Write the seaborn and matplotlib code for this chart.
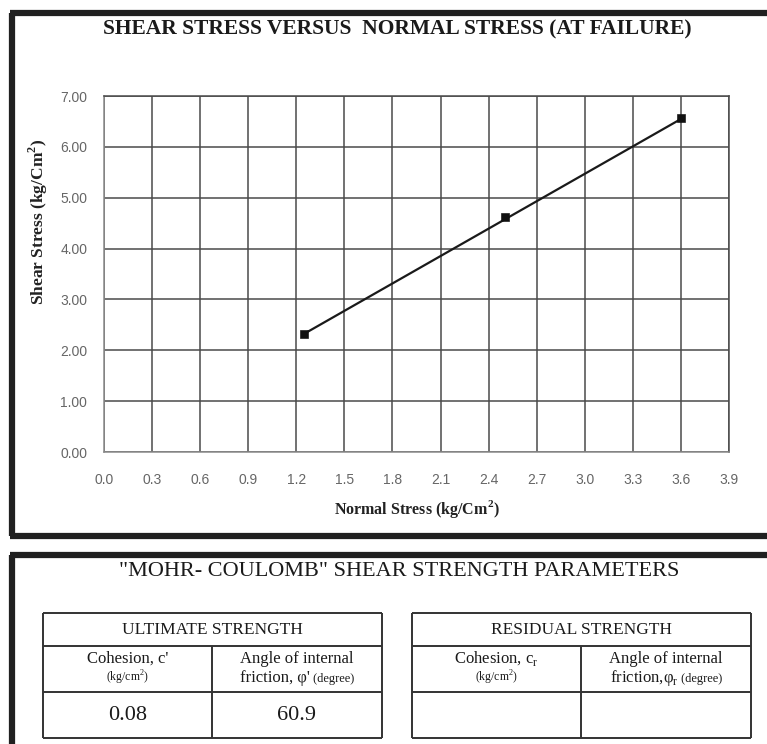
import numpy as np
import pandas as pd
import seaborn as sns
import matplotlib.pyplot as plt

# Direct shear test results at failure
normal_stress = [1.25, 2.50, 3.60]   # kg/cm²
shear_stress = [2.32, 4.62, 6.57]    # kg/cm²

# Mohr-Coulomb parameters (ultimate strength)
cohesion = 0.08        # kg/cm²
friction_angle = 60.9  # degrees

x_ticks = [0.0, 0.3, 0.6, 0.9, 1.2, 1.5, 1.8, 2.1, 2.4, 2.7, 3.0, 3.3, 3.6, 3.9]
y_ticks = [0.0, 1.0, 2.0, 3.0, 4.0, 5.0, 6.0, 7.0]

sns.set_theme(style="white")
plt.rcParams['font.family'] = ['Liberation Serif', 'DejaVu Serif']

W, H = 767, 744
fig = plt.figure(figsize=(W / 100, H / 100), dpi=100)
fig.patch.set_facecolor("white")

# ---- chart axes -------------------------------------------------------------
left, right, top, bottom = 104, 729, 96, 452
ax = fig.add_axes([left / W, 1 - bottom / H, (right - left) / W, (bottom - top) / H])

points = pd.DataFrame({"normal": normal_stress, "shear": shear_stress})

# Failure envelope: tau = c + sigma * tan(phi)
env_x = np.array([min(normal_stress), max(normal_stress)])
envelope = pd.DataFrame({"normal": env_x,
                         "shear": cohesion + env_x * np.tan(np.radians(friction_angle))})

sns.lineplot(data=envelope, x="normal", y="shear", ax=ax, color="#1a1a1a",
             linewidth=1.6, zorder=3)
sns.scatterplot(data=points, x="normal", y="shear", ax=ax, marker="s", s=30,
                color="#111111", edgecolor="#111111", zorder=4)

ax.set_xlim(0, 3.9)
ax.set_ylim(0, 7.0)
ax.set_xticks(x_ticks)
ax.set_yticks(y_ticks)
ax.set_xticklabels([f"{v:.1f}" for v in x_ticks])
ax.set_yticklabels([f"{v:.2f}" for v in y_ticks])
ax.grid(True, color="#4a4a4a", linewidth=1.1)
ax.set_axisbelow(True)
for side in ["top", "right"]:
    ax.spines[side].set_color("#4a4a4a")
    ax.spines[side].set_linewidth(1.1)
for side in ["left", "bottom"]:
    ax.spines[side].set_color("#8a8a8a")
    ax.spines[side].set_linewidth(1.1)
ax.tick_params(axis="both", direction="out", length=5, width=1.0, color="#777777",
               labelcolor="#666666", labelsize=10)
ax.tick_params(axis="x", pad=10)
ax.tick_params(axis="y", pad=7)
for lab in ax.get_xticklabels() + ax.get_yticklabels():
    lab.set_fontfamily(['Liberation Sans', 'DejaVu Sans'])

ax.set_xlabel("Normal Stress (kg/Cm$^\\mathregular{2}$)", fontsize=11.5, fontweight="bold",
              color="#222222", labelpad=8)
ax.set_ylabel("")
fig.text(38 / W, 1 - 222 / H, "Shear Stress (kg/Cm$^\\mathregular{2}$)", rotation=90,
         ha="center", va="center", fontsize=12.5, fontweight="bold", color="#222222")

# ---- overlay for frames, titles and parameter tables ------------------------
ov = fig.add_axes([0, 0, 1, 1], zorder=-1)
ov.set_xlim(0, W)
ov.set_ylim(H, 0)
ov.axis("off")

frame_kw = dict(color="#202020", linewidth=4.5, solid_capstyle="butt")
# upper panel frame
ov.plot([12, 12], [12.5, 535.5], **frame_kw)
ov.plot([10, W + 5], [12.5, 12.5], **frame_kw)
ov.plot([10, W + 5], [535.5, 535.5], **frame_kw)
# lower panel frame
ov.plot([12, 12], [554.5, H + 5], **frame_kw)
ov.plot([10, W + 5], [554.5, 554.5], **frame_kw)

ov.text(397, 29, "SHEAR STRESS VERSUS  NORMAL STRESS (AT FAILURE)", ha="center",
        va="center", fontsize=15.5, fontweight="bold", color="#1a1a1a")
ov.text(399, 571, "\"MOHR- COULOMB\" SHEAR STRENGTH PARAMETERS", ha="center",
        va="center", fontsize=16, color="#1a1a1a")

# parameter tables
line_kw = dict(color="#333333", linewidth=1.4, solid_capstyle="butt")
rows = [613, 646, 692, 738]
paired = []  # (big text, small text, centre x) laid out after measuring


def draw_table(x0, xm, x1, title, c_label, phi_label, c_val, phi_val):
    for y in rows:
        ov.plot([x0, x1], [y, y], **line_kw)
    ov.plot([x0, x0], [rows[0], rows[-1]], **line_kw)
    ov.plot([x1, x1], [rows[0], rows[-1]], **line_kw)
    ov.plot([xm, xm], [rows[1], rows[-1]], **line_kw)
    ov.text((x0 + x1) / 2, 630, title, ha="center", va="center", fontsize=12.5,
            color="#1a1a1a")
    cx, px = (x0 + xm) / 2, (xm + x1) / 2
    ov.text(cx, 663, c_label, ha="center", va="baseline", fontsize=12, color="#1a1a1a")
    ov.text(cx, 682, "(kg/cm$^\\mathregular{2}$)", ha="center", va="baseline",
            fontsize=8.5, color="#1a1a1a")
    ov.text(px, 663, "Angle of internal", ha="center", va="baseline", fontsize=12,
            color="#1a1a1a")
    big = ov.text(px, 682, phi_label, ha="left", va="baseline", fontsize=12,
                  color="#1a1a1a")
    small = ov.text(px, 682, " (degree)", ha="left", va="baseline", fontsize=9,
                    color="#1a1a1a")
    paired.append((big, small, px))
    if c_val is not None:
        ov.text(cx, 715, c_val, ha="center", va="center", fontsize=16, color="#1a1a1a")
    if phi_val is not None:
        ov.text(px, 715, phi_val, ha="center", va="center", fontsize=16, color="#1a1a1a")


draw_table(43, 212, 382, "ULTIMATE STRENGTH", "Cohesion, c'",
           "friction, \u03c6'", f"{cohesion:.2f}", f"{friction_angle:.1f}")
draw_table(412, 581, 751, "RESIDUAL STRENGTH", "Cohesion, c$_\\mathregular{r}$",
           "friction,\u03c6$_\\mathregular{r}$", None, None)

# centre each mixed-size label line inside its cell
fig.canvas.draw()
renderer = fig.canvas.get_renderer()
for big, small, cx in paired:
    wb = big.get_window_extent(renderer).width
    ws = small.get_window_extent(renderer).width
    start = cx - (wb + ws) / 2
    big.set_x(start)
    small.set_x(start + wb)

fig.savefig("out.png", dpi=100, facecolor="white")
